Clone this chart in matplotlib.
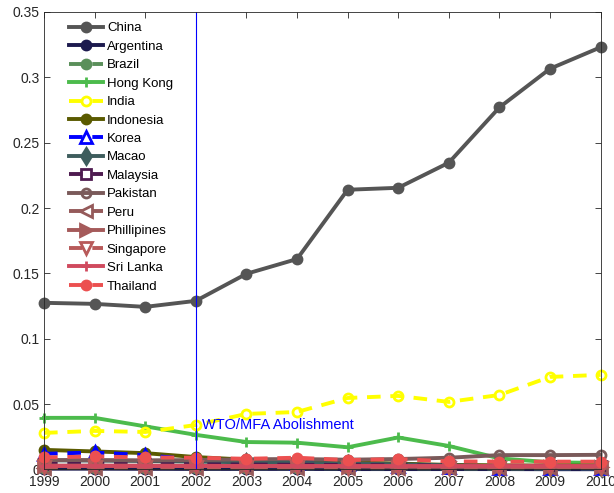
import matplotlib
matplotlib.use("Agg")
import matplotlib.pyplot as plt

plt.rcParams['font.family'] = ['Liberation Sans', 'DejaVu Sans']

years = list(range(1999, 2011))

china = [0.1275, 0.1267, 0.1244, 0.1290, 0.1497, 0.1610, 0.2140, 0.2155, 0.2347, 0.2770, 0.3066, 0.3230]
argentina = [0.0006, 0.0006, 0.0005, 0.0004, 0.0004, 0.0004, 0.0003, 0.0003, 0.0003, 0.0003, 0.0002, 0.0002]
brazil = [0.0012, 0.0012, 0.0011, 0.0010, 0.0010, 0.0010, 0.0009, 0.0009, 0.0008, 0.0008, 0.0008, 0.0008]
hong_kong = [0.0395, 0.0395, 0.0330, 0.0265, 0.0210, 0.0205, 0.0170, 0.0245, 0.0180, 0.0085, 0.0055, 0.0050]
india = [0.0280, 0.0295, 0.0287, 0.0340, 0.0425, 0.0440, 0.0547, 0.0563, 0.0517, 0.0570, 0.0708, 0.0724]
indonesia = [0.0150, 0.0138, 0.0125, 0.0095, 0.0075, 0.0065, 0.0055, 0.0045, 0.0035, 0.0032, 0.0030, 0.0030]
korea = [0.0120, 0.0130, 0.0110, 0.0075, 0.0060, 0.0050, 0.0040, 0.0030, 0.0022, 0.0012, 0.0010, 0.0010]
macao = [0.0070, 0.0068, 0.0065, 0.0060, 0.0055, 0.0050, 0.0045, 0.0040, 0.0032, 0.0025, 0.0020, 0.0020]
malaysia = [0.0045, 0.0045, 0.0042, 0.0040, 0.0038, 0.0036, 0.0034, 0.0032, 0.0030, 0.0028, 0.0027, 0.0027]
pakistan = [0.0072, 0.0072, 0.0070, 0.0072, 0.0078, 0.0080, 0.0075, 0.0080, 0.0090, 0.0110, 0.0110, 0.0112]
peru = [0.0010, 0.0010, 0.0010, 0.0010, 0.0010, 0.0010, 0.0010, 0.0010, 0.0010, 0.0010, 0.0010, 0.0010]
phillipines = [0.0030, 0.0030, 0.0030, 0.0028, 0.0026, 0.0024, 0.0022, 0.0020, 0.0020, 0.0018, 0.0018, 0.0018]
singapore = [0.0020, 0.0020, 0.0019, 0.0018, 0.0017, 0.0016, 0.0015, 0.0015, 0.0014, 0.0013, 0.0013, 0.0013]
sri_lanka = [0.0030, 0.0030, 0.0030, 0.0030, 0.0030, 0.0030, 0.0030, 0.0030, 0.0030, 0.0030, 0.0030, 0.0030]
thailand = [0.0092, 0.0100, 0.0092, 0.0090, 0.0082, 0.0090, 0.0072, 0.0080, 0.0062, 0.0060, 0.0060, 0.0060]

# (label, values, color, linestyle, marker, filled)
series = [
    ("China", china, "#555555", "-", "o", True),
    ("Argentina", argentina, "#1c1a4e", "-", "o", True),
    ("Brazil", brazil, "#5a8f5a", "--", "o", True),
    ("Hong Kong", hong_kong, "#4cbb4c", "-", "+", True),
    ("India", india, "#ffff00", "--", "o", False),
    ("Indonesia", indonesia, "#5a5a00", "-", "o", True),
    ("Korea", korea, "#0000ff", "--", "^", False),
    ("Macao", macao, "#3e5d5d", "-", "d", True),
    ("Malaysia", malaysia, "#4e1b50", "--", "s", False),
    ("Pakistan", pakistan, "#7a5a5a", "-", "o", False),
    ("Peru", peru, "#955a5a", "--", "<", False),
    ("Phillipines", phillipines, "#a55a5a", "-", ">", True),
    ("Singapore", singapore, "#b85a5a", "--", "v", False),
    ("Sri Lanka", sri_lanka, "#d04a5e", "-", "+", True),
    ("Thailand", thailand, "#ec5050", "--", "o", True),
]

fig = plt.figure(figsize=(6.14, 4.93), dpi=100)
ax = fig.add_axes([0.0717, 0.0477, 0.9065, 0.928])

for label, vals, color, ls, mk, filled in series:
    face = color if filled else "none"
    big = mk in ("<", ">", "v", "^", "d")
    ax.plot(years, vals, color=color, linestyle=ls, linewidth=2.8,
            marker=mk, markersize=8 if big else 6.5, markerfacecolor=face,
            markeredgecolor=color, markeredgewidth=2.0, label=label,
            dashes=(3.5, 2.5) if ls == "--" else (None, None), clip_on=False)

ax.axvline(2002, color="#0000ff", linewidth=0.8)
ax.text(2002.12, 0.034, "WTO/MFA Abolishment", color="#0000ff", fontsize=10.5,
        va="center", ha="left")

ax.set_xlim(1999, 2010)
ax.set_ylim(0, 0.35)
ax.set_xticks(years)
ax.set_yticks([0, 0.05, 0.1, 0.15, 0.2, 0.25, 0.3, 0.35])
ax.set_yticklabels(["0", "0.05", "0.1", "0.15", "0.2", "0.25", "0.3", "0.35"])
ax.tick_params(direction="in", labelsize=10, length=4, width=0.6,
               top=True, right=True, colors="#262626")
ax.tick_params(axis="x", pad=4)
ax.tick_params(axis="y", pad=3)
for s in ax.spines.values():
    s.set_linewidth(0.6)
    s.set_color("#262626")

ax.legend(loc="upper left", bbox_to_anchor=(0.03, 0.995), frameon=False,
          fontsize=9.5, handlelength=2.6, labelspacing=0.47, handletextpad=0.3,
          borderaxespad=0.2)

fig.savefig("out.png", dpi=100)
